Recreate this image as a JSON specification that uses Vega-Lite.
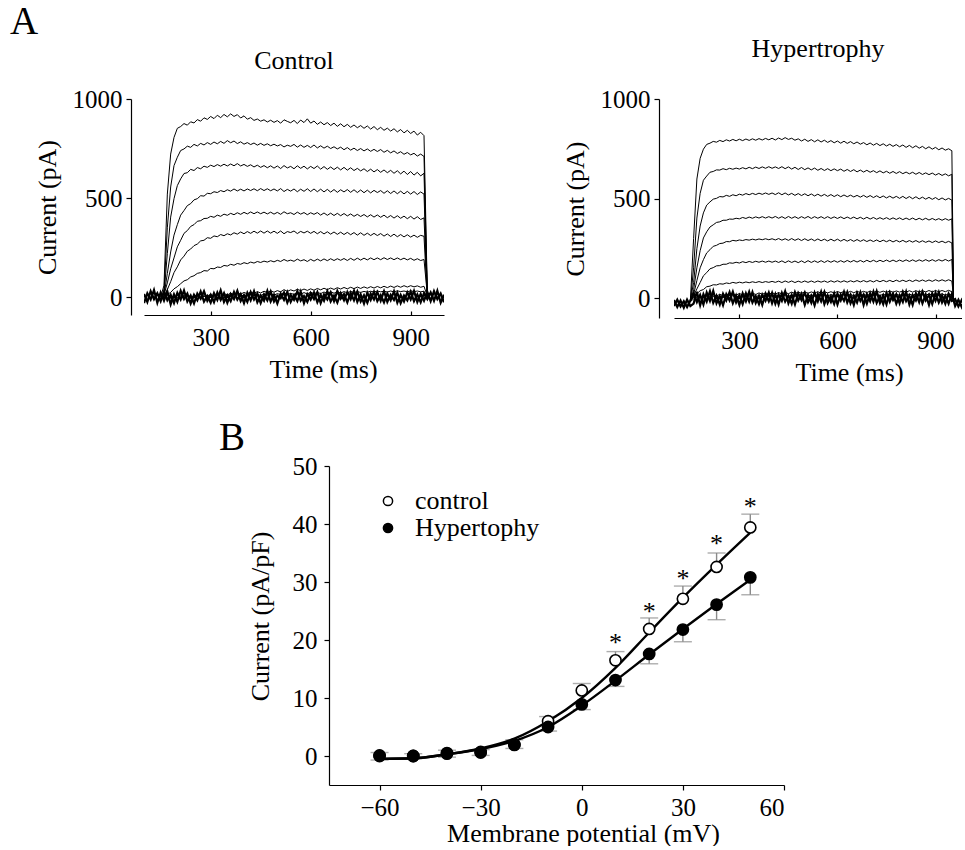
{
"$schema":"https://vega.github.io/schema/vega-lite/v6.json",
"background":"white",
"padding":{"left":10,"top":3,"right":0,"bottom":0},
"config":{
 "font":"Liberation Serif",
 "view":{"stroke":null},
 "axis":{"labelFont":"Liberation Serif","titleFont":"Liberation Serif","labelColor":"black","titleColor":"black","domainColor":"black","tickColor":"black","grid":false,"titleFontWeight":"normal","labelFontSize":25,"titleFontSize":26,"domainWidth":1.2,"tickWidth":1.2},
 "title":{"font":"Liberation Serif","fontWeight":"normal","color":"black"},
 "legend":{"labelFont":"Liberation Serif","labelColor":"black"}
},
"resolve":{"scale":{"fill":"independent"},"legend":{"fill":"independent"}},
"datasets":{
"ctrl":[
{"t":100,"j":16,"k":-30},{"t":110,"j":-24,"k":20},{"t":120,"j":30,"k":-12},{"t":130,"j":-10,"k":36},{"t":140,"j":20,"k":-28},
{"t":150,"a":0,"b":-5,"c":4,"d":-8,"e":6,"f":-3,"g":5,"h":-6,"i":3,"j":-20,"k":24},
{"t":160,"a":60,"b":30,"c":15,"d":8,"e":12,"f":2,"g":-4,"h":6,"i":-5,"j":28,"k":-18},
{"t":170,"a":520,"b":350,"c":220,"d":120,"e":72,"f":38,"g":14,"h":-3,"i":8,"j":-16,"k":30},
{"t":180,"a":722,"b":556,"c":404,"d":228,"e":143,"f":78,"g":24,"h":9,"i":-6,"j":12,"k":-36},
{"t":190,"a":806,"b":664,"c":497,"d":313,"e":198,"f":124,"g":42,"h":-5,"i":10,"j":-30,"k":14},
{"t":200,"a":852,"b":706,"c":563,"d":366,"e":254,"f":153,"g":53,"h":12,"i":-2,"j":22,"k":-24},
{"t":210,"a":861,"b":740,"c":597,"d":414,"e":287,"f":188,"g":68,"h":-2,"i":7,"j":-12,"k":32},
{"t":220,"a":876,"b":748,"c":624,"d":437,"e":322,"f":207,"g":82,"h":8,"i":-8,"j":34,"k":-10},
{"t":230,"a":868,"b":762,"c":628,"d":462,"e":336,"f":232,"g":88,"h":3,"i":12,"j":-22,"k":18},
{"t":240,"a":885,"b":756,"c":645,"d":472,"e":357,"f":243,"g":102,"h":-6,"i":2,"j":8,"k":-32},
{"t":250,"a":879,"b":771,"c":639,"d":491,"e":366,"f":260,"g":108,"h":10,"i":-4,"j":-32,"k":12},
{"t":260,"a":896,"b":763,"c":654,"d":497,"e":383,"f":268,"g":120,"h":4,"i":9,"j":18,"k":-16},
{"t":270,"a":888,"b":776,"c":648,"d":512,"e":386,"f":284,"g":124,"h":-3,"i":-7,"j":-8,"k":28},
{"t":280,"a":905,"b":768,"c":661,"d":510,"e":397,"f":287,"g":134,"h":12,"i":5,"j":30,"k":-22},
{"t":290,"a":897,"b":780,"c":655,"d":524,"e":398,"f":300,"g":132,"h":6,"i":-3,"j":-18,"k":6},
{"t":300,"a":912,"b":771,"c":666,"d":522,"e":408,"f":297,"g":145,"h":14,"i":8,"j":12,"k":-28},
{"t":310,"a":901,"b":783,"c":659,"d":532,"e":403,"f":309,"g":143,"h":5,"i":-1,"j":-26,"k":20},
{"t":320,"a":918,"b":774,"c":669,"d":528,"e":414,"f":305,"g":152,"h":16,"i":10,"j":24,"k":-14},
{"t":330,"a":906,"b":786,"c":661,"d":538,"e":408,"f":316,"g":150,"h":9,"i":2,"j":-14,"k":34},
{"t":340,"a":922,"b":776,"c":671,"d":532,"e":419,"f":310,"g":160,"h":18,"i":-4,"j":20,"k":-24},
{"t":350,"a":910,"b":790,"c":662,"d":542,"e":413,"f":320,"g":157,"h":11,"i":9,"j":-28,"k":10},
{"t":360,"a":925,"b":779,"c":672,"d":535,"e":423,"f":314,"g":166,"h":20,"i":3,"j":16,"k":-20},
{"t":370,"a":912,"b":788,"c":663,"d":546,"e":416,"f":325,"g":161,"h":13,"i":-2,"j":-10,"k":26},
{"t":380,"a":921,"b":775,"c":674,"d":536,"e":426,"f":318,"g":170,"h":22,"i":11,"j":32,"k":-12},
{"t":390,"a":904,"b":784,"c":662,"d":545,"e":418,"f":329,"g":166,"h":15,"i":4,"j":-20,"k":16},
{"t":400,"a":915,"b":772,"c":670,"d":536,"e":428,"f":320,"g":174,"h":24,"i":12,"j":10,"k":-30},
{"t":410,"a":898,"b":780,"c":660,"d":546,"e":420,"f":331,"g":169,"h":17,"i":6,"j":-24,"k":22},
{"t":420,"a":906,"b":770,"c":668,"d":538,"e":430,"f":322,"g":177,"h":26,"i":14,"j":26,"k":-16},
{"t":430,"a":892,"b":778,"c":657,"d":547,"e":421,"f":333,"g":172,"h":19,"i":7,"j":-12,"k":30},
{"t":440,"a":899,"b":767,"c":666,"d":537,"e":430,"f":323,"g":180,"h":28,"i":15,"j":18,"k":-26},
{"t":450,"a":888,"b":776,"c":655,"d":548,"e":421,"f":334,"g":175,"h":21,"i":8,"j":-30,"k":8},
{"t":460,"a":895,"b":766,"c":664,"d":538,"e":429,"f":323,"g":182,"h":30,"i":16,"j":14,"k":-18},
{"t":470,"a":884,"b":774,"c":653,"d":547,"e":420,"f":334,"g":177,"h":23,"i":9,"j":-16,"k":32},
{"t":480,"a":893,"b":764,"c":663,"d":537,"e":429,"f":323,"g":184,"h":32,"i":17,"j":28,"k":-22},
{"t":490,"a":882,"b":772,"c":651,"d":546,"e":419,"f":333,"g":178,"h":25,"i":10,"j":-22,"k":12},
{"t":500,"a":891,"b":763,"c":662,"d":536,"e":428,"f":322,"g":186,"h":33,"i":18,"j":8,"k":-32},
{"t":510,"a":878,"b":770,"c":649,"d":548,"e":418,"f":334,"g":180,"h":27,"i":12,"j":-6,"k":18},
{"t":520,"a":895,"b":758,"c":664,"d":533,"e":431,"f":320,"g":190,"h":38,"i":22,"j":24,"k":-14},
{"t":530,"a":887,"b":767,"c":652,"d":544,"e":421,"f":331,"g":182,"h":29,"i":13,"j":-28,"k":26},
{"t":540,"a":880,"b":761,"c":660,"d":535,"e":426,"f":326,"g":187,"h":37,"i":19,"j":12,"k":-24},
{"t":550,"a":892,"b":771,"c":648,"d":546,"e":417,"f":334,"g":181,"h":31,"i":14,"j":-14,"k":10},
{"t":560,"a":876,"b":757,"c":663,"d":532,"e":429,"f":321,"g":192,"h":40,"i":24,"j":30,"k":-20},
{"t":570,"a":894,"b":768,"c":650,"d":545,"e":419,"f":332,"g":183,"h":33,"i":15,"j":-18,"k":28},
{"t":580,"a":881,"b":756,"c":661,"d":534,"e":427,"f":324,"g":189,"h":41,"i":23,"j":6,"k":-30},
{"t":590,"a":900,"b":766,"c":647,"d":547,"e":416,"f":333,"g":180,"h":34,"i":16,"j":-24,"k":16},
{"t":600,"a":878,"b":755,"c":660,"d":533,"e":426,"f":322,"g":191,"h":42,"i":25,"j":20,"k":-12},
{"t":610,"a":889,"b":768,"c":649,"d":546,"e":418,"f":332,"g":182,"h":35,"i":17,"j":-10,"k":24},
{"t":620,"a":872,"b":753,"c":662,"d":532,"e":427,"f":320,"g":192,"h":44,"i":24,"j":26,"k":-26},
{"t":630,"a":884,"b":764,"c":646,"d":545,"e":414,"f":331,"g":183,"h":37,"i":18,"j":-30,"k":12},
{"t":640,"a":870,"b":752,"c":659,"d":531,"e":425,"f":319,"g":193,"h":45,"i":26,"j":14,"k":-18},
{"t":650,"a":881,"b":762,"c":645,"d":544,"e":413,"f":330,"g":184,"h":38,"i":19,"j":-12,"k":30},
{"t":660,"a":866,"b":750,"c":657,"d":530,"e":424,"f":318,"g":194,"h":46,"i":27,"j":24,"k":-22},
{"t":670,"a":878,"b":759,"c":644,"d":543,"e":412,"f":329,"g":185,"h":39,"i":20,"j":-20,"k":8},
{"t":680,"a":862,"b":748,"c":656,"d":529,"e":423,"f":317,"g":194,"h":48,"i":26,"j":32,"k":-28},
{"t":690,"a":875,"b":757,"c":642,"d":542,"e":411,"f":328,"g":186,"h":41,"i":21,"j":-8,"k":20},
{"t":700,"a":860,"b":744,"c":655,"d":531,"e":422,"f":316,"g":195,"h":49,"i":28,"j":16,"k":-16},
{"t":710,"a":872,"b":755,"c":641,"d":543,"e":410,"f":327,"g":185,"h":42,"i":22,"j":-26,"k":26},
{"t":720,"a":857,"b":742,"c":653,"d":529,"e":420,"f":315,"g":196,"h":50,"i":29,"j":22,"k":-10},
{"t":730,"a":869,"b":752,"c":639,"d":542,"e":408,"f":326,"g":186,"h":43,"i":23,"j":-16,"k":32},
{"t":740,"a":855,"b":740,"c":650,"d":528,"e":418,"f":313,"g":197,"h":51,"i":28,"j":28,"k":-24},
{"t":750,"a":866,"b":750,"c":637,"d":541,"e":407,"f":325,"g":187,"h":44,"i":24,"j":-22,"k":14},
{"t":760,"a":852,"b":738,"c":648,"d":527,"e":417,"f":312,"g":197,"h":52,"i":29,"j":10,"k":-32},
{"t":770,"a":864,"b":748,"c":634,"d":540,"e":405,"f":323,"g":188,"h":45,"i":25,"j":-28,"k":22},
{"t":780,"a":848,"b":736,"c":646,"d":526,"e":416,"f":311,"g":198,"h":53,"i":30,"j":18,"k":-14},
{"t":790,"a":861,"b":746,"c":632,"d":539,"e":404,"f":322,"g":189,"h":46,"i":26,"j":-12,"k":28},
{"t":800,"a":845,"b":735,"c":644,"d":528,"e":415,"f":311,"g":198,"h":54,"i":31,"j":26,"k":-20},
{"t":810,"a":857,"b":745,"c":630,"d":538,"e":403,"f":321,"g":189,"h":47,"i":27,"j":-18,"k":10},
{"t":820,"a":842,"b":731,"c":642,"d":524,"e":414,"f":308,"g":199,"h":55,"i":30,"j":30,"k":-26},
{"t":830,"a":853,"b":741,"c":628,"d":537,"e":401,"f":319,"g":190,"h":48,"i":26,"j":-24,"k":18},
{"t":840,"a":838,"b":728,"c":640,"d":523,"e":412,"f":306,"g":198,"h":56,"i":31,"j":12,"k":-16},
{"t":850,"a":850,"b":738,"c":625,"d":536,"e":399,"f":318,"g":189,"h":49,"i":27,"j":-14,"k":30},
{"t":860,"a":834,"b":725,"c":638,"d":522,"e":411,"f":305,"g":198,"h":57,"i":32,"j":22,"k":-28},
{"t":870,"a":846,"b":734,"c":622,"d":535,"e":398,"f":316,"g":189,"h":50,"i":28,"j":-30,"k":12},
{"t":880,"a":829,"b":721,"c":636,"d":521,"e":409,"f":304,"g":197,"h":58,"i":31,"j":8,"k":-22},
{"t":890,"a":842,"b":730,"c":619,"d":534,"e":396,"f":315,"g":188,"h":51,"i":27,"j":-16,"k":24},
{"t":900,"a":826,"b":718,"c":634,"d":520,"e":408,"f":303,"g":196,"h":58,"i":32,"j":28,"k":-12},
{"t":910,"a":838,"b":726,"c":616,"d":533,"e":394,"f":313,"g":186,"h":52,"i":28,"j":-20,"k":32},
{"t":920,"a":818,"b":712,"c":630,"d":518,"e":406,"f":302,"g":194,"h":57,"i":31,"j":14,"k":-24},
{"t":930,"a":832,"b":722,"c":612,"d":531,"e":392,"f":312,"g":185,"h":50,"i":27,"j":-26,"k":16},
{"t":940,"a":815,"b":710,"c":625,"d":520,"e":400,"f":307,"g":190,"h":55,"i":30,"j":20,"k":-18},
{"t":950,"a":20,"b":10,"c":-5,"d":15,"e":5,"f":-8,"g":12,"h":4,"i":-6,"j":-10,"k":26},
{"t":960,"j":24,"k":-20},{"t":970,"j":-18,"k":30},{"t":980,"j":32,"k":-10},{"t":990,"j":-28,"k":18},{"t":1000,"j":12,"k":-26}
],
"hyp":[
{"t":100,"j":-40,"k":-10},{"t":110,"j":-8,"k":-45},{"t":120,"j":-42,"k":-12},{"t":130,"j":-15,"k":-48},{"t":140,"j":-45,"k":-8},
{"t":150,"a":-15,"b":-18,"c":-12,"d":-20,"e":-14,"f":-16,"g":-10,"h":-18,"i":-13,"j":-12,"k":-40},
{"t":160,"a":300,"b":152,"c":78,"d":42,"e":18,"f":12,"g":3,"h":-4,"i":6,"j":24,"k":-28},
{"t":170,"a":598,"b":402,"c":248,"d":152,"e":88,"f":46,"g":22,"h":5,"i":-6,"j":-20,"k":32},
{"t":180,"a":702,"b":526,"c":362,"d":238,"e":152,"f":78,"g":37,"h":9,"i":4,"j":16,"k":-36},
{"t":190,"a":748,"b":592,"c":428,"d":302,"e":193,"f":112,"g":43,"h":2,"i":-5,"j":-32,"k":20},
{"t":200,"a":772,"b":613,"c":467,"d":333,"e":227,"f":128,"g":57,"h":14,"i":7,"j":28,"k":-18},
{"t":210,"a":778,"b":632,"c":483,"d":357,"e":243,"f":147,"g":60,"h":8,"i":-2,"j":-14,"k":34},
{"t":220,"a":787,"b":636,"c":497,"d":368,"e":260,"f":153,"g":67,"h":17,"i":9,"j":36,"k":-24},
{"t":230,"a":783,"b":644,"c":501,"d":380,"e":265,"f":162,"g":66,"h":10,"i":1,"j":-26,"k":12},
{"t":240,"a":792,"b":643,"c":510,"d":383,"e":274,"f":163,"g":72,"h":19,"i":10,"j":10,"k":-32},
{"t":250,"a":786,"b":650,"c":508,"d":391,"e":276,"f":170,"g":70,"h":12,"i":2,"j":-36,"k":22},
{"t":260,"a":795,"b":645,"c":516,"d":391,"e":284,"f":170,"g":76,"h":21,"i":11,"j":20,"k":-12},
{"t":270,"a":789,"b":652,"c":511,"d":397,"e":283,"f":177,"g":73,"h":14,"i":3,"j":-12,"k":30},
{"t":280,"a":797,"b":647,"c":519,"d":396,"e":290,"f":175,"g":79,"h":22,"i":12,"j":32,"k":-26},
{"t":290,"a":790,"b":653,"c":514,"d":401,"e":287,"f":180,"g":75,"h":15,"i":4,"j":-22,"k":14},
{"t":300,"a":798,"b":648,"c":522,"d":398,"e":292,"f":176,"g":80,"h":23,"i":13,"j":14,"k":-34},
{"t":310,"a":791,"b":655,"c":517,"d":405,"e":289,"f":183,"g":76,"h":16,"i":5,"j":-30,"k":24},
{"t":320,"a":799,"b":649,"c":525,"d":400,"e":294,"f":178,"g":81,"h":24,"i":13,"j":24,"k":-16},
{"t":330,"a":792,"b":657,"c":519,"d":407,"e":291,"f":184,"g":77,"h":17,"i":5,"j":-18,"k":32},
{"t":340,"a":800,"b":650,"c":526,"d":401,"e":296,"f":179,"g":82,"h":25,"i":14,"j":30,"k":-22},
{"t":350,"a":793,"b":658,"c":520,"d":408,"e":292,"f":185,"g":78,"h":18,"i":6,"j":-24,"k":10},
{"t":360,"a":801,"b":651,"c":527,"d":402,"e":297,"f":180,"g":83,"h":26,"i":14,"j":12,"k":-30},
{"t":370,"a":794,"b":659,"c":521,"d":409,"e":293,"f":186,"g":78,"h":19,"i":6,"j":-34,"k":18},
{"t":380,"a":802,"b":652,"c":528,"d":402,"e":298,"f":180,"g":83,"h":26,"i":15,"j":22,"k":-14},
{"t":390,"a":795,"b":660,"c":521,"d":409,"e":293,"f":186,"g":79,"h":19,"i":7,"j":-16,"k":28},
{"t":400,"a":803,"b":652,"c":528,"d":402,"e":298,"f":180,"g":84,"h":27,"i":15,"j":26,"k":-26},
{"t":410,"a":794,"b":659,"c":520,"d":410,"e":292,"f":186,"g":79,"h":20,"i":8,"j":-28,"k":20},
{"t":420,"a":804,"b":651,"c":529,"d":401,"e":299,"f":179,"g":85,"h":28,"i":15,"j":18,"k":-32},
{"t":430,"a":796,"b":660,"c":519,"d":409,"e":291,"f":187,"g":78,"h":21,"i":7,"j":-14,"k":26},
{"t":440,"a":806,"b":650,"c":528,"d":400,"e":298,"f":178,"g":86,"h":29,"i":16,"j":34,"k":-18},
{"t":450,"a":797,"b":659,"c":518,"d":410,"e":290,"f":187,"g":79,"h":22,"i":8,"j":-26,"k":12},
{"t":460,"a":803,"b":648,"c":526,"d":401,"e":299,"f":179,"g":86,"h":30,"i":16,"j":16,"k":-28},
{"t":470,"a":793,"b":657,"c":516,"d":409,"e":290,"f":186,"g":78,"h":23,"i":8,"j":-32,"k":30},
{"t":480,"a":800,"b":646,"c":525,"d":400,"e":298,"f":178,"g":85,"h":30,"i":17,"j":24,"k":-12},
{"t":490,"a":789,"b":656,"c":515,"d":409,"e":289,"f":187,"g":79,"h":24,"i":9,"j":-10,"k":22},
{"t":500,"a":798,"b":645,"c":524,"d":401,"e":298,"f":178,"g":86,"h":31,"i":17,"j":28,"k":-34},
{"t":510,"a":787,"b":654,"c":514,"d":410,"e":289,"f":188,"g":79,"h":24,"i":9,"j":-20,"k":16},
{"t":520,"a":796,"b":644,"c":523,"d":400,"e":297,"f":179,"g":86,"h":31,"i":17,"j":12,"k":-24},
{"t":530,"a":785,"b":653,"c":513,"d":409,"e":288,"f":187,"g":79,"h":25,"i":9,"j":-36,"k":28},
{"t":540,"a":795,"b":642,"c":522,"d":401,"e":297,"f":179,"g":86,"h":32,"i":18,"j":20,"k":-16},
{"t":550,"a":784,"b":651,"c":512,"d":409,"e":288,"f":188,"g":80,"h":25,"i":10,"j":-16,"k":32},
{"t":560,"a":793,"b":641,"c":521,"d":400,"e":296,"f":179,"g":86,"h":32,"i":18,"j":30,"k":-30},
{"t":570,"a":782,"b":650,"c":511,"d":409,"e":287,"f":188,"g":79,"h":26,"i":10,"j":-24,"k":14},
{"t":580,"a":791,"b":640,"c":520,"d":400,"e":296,"f":180,"g":87,"h":32,"i":18,"j":10,"k":-20},
{"t":590,"a":780,"b":649,"c":510,"d":408,"e":287,"f":188,"g":80,"h":26,"i":10,"j":-30,"k":24},
{"t":600,"a":789,"b":640,"c":519,"d":400,"e":296,"f":180,"g":87,"h":33,"i":18,"j":22,"k":-32},
{"t":610,"a":778,"b":648,"c":509,"d":408,"e":286,"f":188,"g":80,"h":27,"i":11,"j":-12,"k":18},
{"t":620,"a":788,"b":637,"c":518,"d":399,"e":295,"f":180,"g":87,"h":33,"i":19,"j":32,"k":-14},
{"t":630,"a":777,"b":646,"c":509,"d":407,"e":286,"f":189,"g":80,"h":27,"i":11,"j":-22,"k":30},
{"t":640,"a":786,"b":636,"c":517,"d":399,"e":294,"f":181,"g":87,"h":34,"i":19,"j":16,"k":-26},
{"t":650,"a":775,"b":645,"c":508,"d":407,"e":285,"f":189,"g":81,"h":27,"i":11,"j":-34,"k":12},
{"t":660,"a":784,"b":634,"c":516,"d":398,"e":294,"f":181,"g":88,"h":34,"i":19,"j":26,"k":-22},
{"t":670,"a":773,"b":643,"c":507,"d":406,"e":285,"f":189,"g":81,"h":28,"i":11,"j":-14,"k":28},
{"t":680,"a":781,"b":633,"c":516,"d":397,"e":293,"f":181,"g":88,"h":34,"i":19,"j":18,"k":-34},
{"t":690,"a":770,"b":642,"c":506,"d":406,"e":284,"f":190,"g":81,"h":28,"i":12,"j":-28,"k":20},
{"t":700,"a":779,"b":632,"c":515,"d":397,"e":292,"f":182,"g":88,"h":35,"i":20,"j":24,"k":-16},
{"t":710,"a":768,"b":640,"c":505,"d":405,"e":284,"f":190,"g":81,"h":28,"i":12,"j":-18,"k":32},
{"t":720,"a":777,"b":630,"c":514,"d":396,"e":292,"f":182,"g":89,"h":35,"i":20,"j":34,"k":-24},
{"t":730,"a":766,"b":639,"c":504,"d":404,"e":283,"f":190,"g":82,"h":29,"i":12,"j":-24,"k":10},
{"t":740,"a":775,"b":629,"c":513,"d":396,"e":291,"f":183,"g":89,"h":35,"i":20,"j":14,"k":-30},
{"t":750,"a":764,"b":637,"c":503,"d":404,"e":283,"f":191,"g":82,"h":29,"i":12,"j":-32,"k":26},
{"t":760,"a":773,"b":627,"c":512,"d":395,"e":291,"f":183,"g":89,"h":36,"i":20,"j":28,"k":-18},
{"t":770,"a":762,"b":636,"c":502,"d":403,"e":282,"f":191,"g":82,"h":29,"i":12,"j":-10,"k":22},
{"t":780,"a":771,"b":626,"c":511,"d":395,"e":290,"f":183,"g":90,"h":36,"i":20,"j":20,"k":-28},
{"t":790,"a":760,"b":635,"c":501,"d":403,"e":282,"f":191,"g":83,"h":30,"i":13,"j":-26,"k":14},
{"t":800,"a":769,"b":625,"c":511,"d":394,"e":290,"f":184,"g":90,"h":36,"i":21,"j":30,"k":-20},
{"t":810,"a":757,"b":633,"c":500,"d":402,"e":281,"f":192,"g":83,"h":30,"i":13,"j":-16,"k":32},
{"t":820,"a":767,"b":624,"c":510,"d":394,"e":289,"f":184,"g":90,"h":37,"i":21,"j":12,"k":-32},
{"t":830,"a":755,"b":632,"c":499,"d":402,"e":281,"f":192,"g":83,"h":30,"i":13,"j":-34,"k":16},
{"t":840,"a":765,"b":622,"c":509,"d":393,"e":289,"f":184,"g":91,"h":37,"i":21,"j":24,"k":-12},
{"t":850,"a":753,"b":631,"c":498,"d":401,"e":280,"f":192,"g":84,"h":31,"i":13,"j":-20,"k":28},
{"t":860,"a":762,"b":621,"c":507,"d":393,"e":288,"f":185,"g":91,"h":37,"i":21,"j":32,"k":-26},
{"t":870,"a":750,"b":629,"c":497,"d":401,"e":280,"f":193,"g":84,"h":31,"i":13,"j":-12,"k":18},
{"t":880,"a":760,"b":620,"c":506,"d":392,"e":287,"f":185,"g":91,"h":38,"i":22,"j":16,"k":-34},
{"t":890,"a":748,"b":628,"c":496,"d":400,"e":279,"f":193,"g":84,"h":31,"i":14,"j":-30,"k":24},
{"t":900,"a":757,"b":618,"c":505,"d":392,"e":287,"f":185,"g":92,"h":38,"i":22,"j":26,"k":-14},
{"t":910,"a":745,"b":626,"c":494,"d":399,"e":279,"f":193,"g":85,"h":32,"i":14,"j":-22,"k":30},
{"t":920,"a":754,"b":616,"c":503,"d":391,"e":286,"f":186,"g":92,"h":38,"i":22,"j":14,"k":-22},
{"t":930,"a":743,"b":624,"c":493,"d":399,"e":278,"f":194,"g":85,"h":32,"i":14,"j":-28,"k":12},
{"t":940,"a":750,"b":614,"c":501,"d":391,"e":285,"f":186,"g":92,"h":39,"i":22,"j":22,"k":-28},
{"t":950,"a":740,"b":622,"c":492,"d":398,"e":277,"f":194,"g":85,"h":32,"i":14,"j":-14,"k":20},
{"t":955,"a":5,"b":-3,"c":8,"d":-6,"e":2,"f":-9,"g":6,"h":-4,"i":3},
{"t":960,"j":-5,"k":-40},{"t":970,"j":-42,"k":-8},{"t":980,"j":-10,"k":-45},{"t":990,"j":-44,"k":-5},{"t":1000,"j":-8,"k":-38}
],
"iv":[
{"v":-60,"g":"control","m":0.1,"e":0.6,"f":-0.5},
{"v":-50,"g":"control","m":0.0,"e":0.4,"f":-0.4},
{"v":-40,"g":"control","m":0.5,"e":1.0,"f":0.3},
{"v":-30,"g":"control","m":0.7,"e":1.1,"f":1.3},
{"v":-20,"g":"control","m":2.0,"e":2.8,"f":3.0},
{"v":-10,"g":"control","m":6.0,"e":6.8,"f":6.0},
{"v":0,"g":"control","m":11.3,"e":12.5,"f":10.0},
{"v":10,"g":"control","m":16.5,"e":18.0,"f":15.2},
{"v":20,"g":"control","m":21.9,"e":23.8,"f":21.3},
{"v":30,"g":"control","m":27.1,"e":29.3,"f":27.3},
{"v":40,"g":"control","m":32.6,"e":35.0,"f":33.0},
{"v":50,"g":"control","m":39.4,"e":41.7,"f":38.5},
{"v":-60,"g":"Hypertophy","m":0.0,"e":-0.7,"f":-0.5},
{"v":-50,"g":"Hypertophy","m":0.0,"e":-0.5,"f":-0.4},
{"v":-40,"g":"Hypertophy","m":0.4,"e":-0.2,"f":0.3},
{"v":-30,"g":"Hypertophy","m":0.6,"e":0.1,"f":1.2},
{"v":-20,"g":"Hypertophy","m":1.9,"e":1.3,"f":2.6},
{"v":-10,"g":"Hypertophy","m":5.0,"e":4.3,"f":5.0},
{"v":0,"g":"Hypertophy","m":8.9,"e":8.0,"f":8.7},
{"v":10,"g":"Hypertophy","m":13.1,"e":12.0,"f":13.0},
{"v":20,"g":"Hypertophy","m":17.6,"e":15.9,"f":17.5},
{"v":30,"g":"Hypertophy","m":21.8,"e":19.7,"f":21.9},
{"v":40,"g":"Hypertophy","m":26.1,"e":23.5,"f":26.2},
{"v":50,"g":"Hypertophy","m":30.8,"e":27.8,"f":30.4}
],
"star":[
{"v":10,"s":20.2},{"v":20,"s":25.6},{"v":30,"s":31.2},{"v":40,"s":37.2},{"v":50,"s":43.6}
]
},
"spacing":34,
"vconcat":[
{
 "title":{"text":"A","anchor":"start","fontSize":39,"dx":-24,"offset":-6},
 "spacing":118,
 "hconcat":[
  {
   "title":{"text":"Control","fontSize":26,"frame":"group","anchor":"middle","offset":13},
   "width":300,"height":216,
   "data":{"name":"ctrl"},
   "transform":[{"fold":["a","b","c","d","e","f","g","h","i","j","k"],"as":["trace","current"]},{"filter":"isValid(datum.current)"}],
   "encoding":{
    "x":{"field":"t","type":"quantitative","scale":{"domain":[100,1000],"nice":false,"zero":false},
         "axis":{"values":[300,600,900],"title":"Time (ms)","tickSize":-4,"labelPadding":14,"titleX":179,"titlePadding":6}},
    "y":{"field":"current","type":"quantitative","scale":{"domain":[-90,1000],"nice":false},
         "axis":{"values":[0,500,1000],"format":"d","title":"Current (pA)","offset":13,"tickSize":5,"labelPadding":4,"titlePadding":12}},
    "detail":{"field":"trace"}
   },
   "layer":[
    {"transform":[{"filter":"datum.trace != 'j' && datum.trace != 'k'"}],"mark":{"type":"line","color":"black","strokeWidth":1,"clip":true},"encoding":{}},
    {"transform":[{"filter":"datum.trace == 'j' || datum.trace == 'k'"}],"mark":{"type":"line","color":"black","strokeWidth":2.2,"clip":true},"encoding":{}}
   ]
  },
  {
   "title":{"text":"Hypertrophy","fontSize":26,"frame":"group","anchor":"middle","offset":25},
   "width":288,"height":219,
   "data":{"name":"hyp"},
   "transform":[{"fold":["a","b","c","d","e","f","g","h","i","j","k"],"as":["trace","current"]},{"filter":"isValid(datum.current)"}],
   "encoding":{
    "x":{"field":"t","type":"quantitative","scale":{"domain":[100,981],"nice":false,"zero":false},
         "axis":{"values":[300,600,900],"title":"Time (ms)","tickSize":-4,"labelPadding":14,"titleX":175,"titlePadding":6}},
    "y":{"field":"current","type":"quantitative","scale":{"domain":[-100,1000],"nice":false},
         "axis":{"values":[0,500,1000],"format":"d","title":"Current (pA)","offset":15,"tickSize":5,"labelPadding":4,"titlePadding":12}},
    "detail":{"field":"trace"}
   },
   "layer":[
    {"transform":[{"filter":"datum.trace != 'j' && datum.trace != 'k'"}],"mark":{"type":"line","color":"black","strokeWidth":1,"clip":true},"encoding":{}},
    {"transform":[{"filter":"datum.trace == 'j' || datum.trace == 'k'"}],"mark":{"type":"line","color":"black","strokeWidth":2.2,"clip":true},"encoding":{}}
   ]
  }
 ]
},
{
 "spacing":0,
 "resolve":{"scale":{"fill":"independent"},"legend":{"fill":"independent"}},
 "hconcat":[
  {"width":75,"height":10,"data":{"values":[{"u":1}]},"mark":{"type":"point","opacity":0},"encoding":{}},
  {
   "title":{"text":"B","anchor":"start","fontSize":39,"dx":-28,"offset":-4},
   "width":455,"height":319,
   "data":{"name":"iv"},
   "encoding":{
    "x":{"field":"v","type":"quantitative","scale":{"domain":[-75,60],"nice":false,"zero":false},"title":"Membrane potential (mV)",
         "axis":{"values":[-60,-30,0,30,60],"tickSize":5,"labelPadding":5,"titleX":254,"titlePadding":0}}
   },
   "layer":[
    {"mark":{"type":"rule","color":"#8a8a8a","strokeWidth":1.4},
     "encoding":{"y":{"field":"m","type":"quantitative","scale":{"domain":[-5,50],"nice":false},"title":"Current (pA/pF)","axis":{"values":[0,10,20,30,40,50],"tickSize":5,"labelPadding":7,"titlePadding":19,"titleY":150}},
                 "y2":{"field":"e"}}},
    {"mark":{"type":"tick","orient":"horizontal","color":"#8a8a8a","size":18,"thickness":1.4},
     "encoding":{"y":{"field":"e","type":"quantitative","scale":{"domain":[-5,50],"nice":false},"title":"Current (pA/pF)","axis":{"values":[0,10,20,30,40,50],"tickSize":5,"labelPadding":7,"titlePadding":19,"titleY":150}}}},
    {"mark":{"type":"line","color":"black","strokeWidth":2.4,"interpolate":"monotone"},
     "encoding":{"y":{"field":"f","type":"quantitative","scale":{"domain":[-5,50],"nice":false},"title":"Current (pA/pF)","axis":{"values":[0,10,20,30,40,50],"tickSize":5,"labelPadding":7,"titlePadding":19,"titleY":150}},
                 "detail":{"field":"g"}}},
    {"mark":{"type":"circle","size":125,"stroke":"black","strokeWidth":1.6,"opacity":1},
     "encoding":{"y":{"field":"m","type":"quantitative","scale":{"domain":[-5,50],"nice":false},"title":"Current (pA/pF)","axis":{"values":[0,10,20,30,40,50],"tickSize":5,"labelPadding":7,"titlePadding":19,"titleY":150}},
                 "fill":{"field":"g","type":"nominal","scale":{"domain":["control","Hypertophy"],"range":["white","black"]},
                         "legend":{"orient":"none","legendX":46,"legendY":22,"title":null,"labelFontSize":26,"symbolSize":85,"symbolType":"circle","symbolStrokeWidth":1.5,"symbolStrokeColor":"black","labelOffset":14,"rowPadding":1,"padding":0}}}},
    {"data":{"name":"star"},"mark":{"type":"text","text":"*","fontSize":26,"font":"Liberation Serif","baseline":"alphabetic","dy":12,"color":"black"},
     "encoding":{"y":{"field":"s","type":"quantitative","scale":{"domain":[-5,50],"nice":false},"title":"Current (pA/pF)","axis":{"values":[0,10,20,30,40,50],"tickSize":5,"labelPadding":7,"titlePadding":19,"titleY":150}}}}
   ]
  }
 ]
}
]
}
